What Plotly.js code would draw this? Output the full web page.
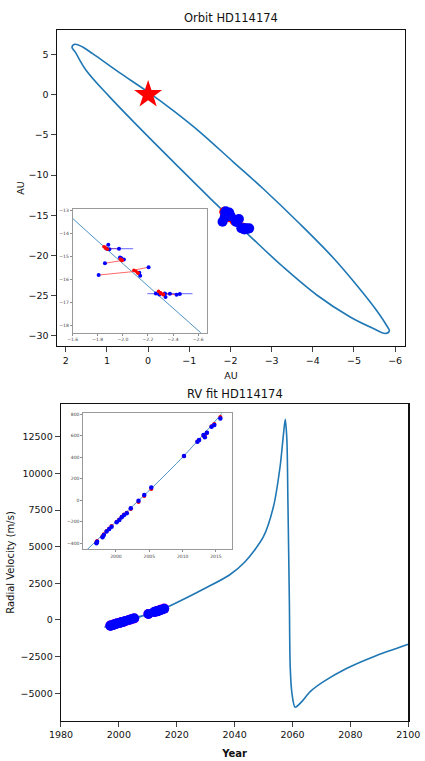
<!DOCTYPE html>
<html>
<head>
<meta charset="utf-8">
<script src="https://cdn.plot.ly/plotly-3.0.1.min.js"></script>
<style>html,body{margin:0;padding:0;background:#fff;}#chart{width:425px;height:761px;}</style>
</head>
<body>
<div id="chart"></div>
<script>
// ---- Orbit (projected ellipse) ----
const orbitX = [0.007, -0.643, -1.252, -2.064, -2.795, -3.689, -4.500, -5.102, -5.541, -5.785, -5.858, -5.761, -5.468, -4.907, -4.096, -3.282, -2.471, -1.538, -0.643, 0.251, 0.941, 1.508, 1.769, 1.849, 1.780, 1.600, 1.347, 0.697, 0.007];
const orbitY = [0.348, -2.112, -4.621, -8.348, -11.702, -16.087, -20.311, -23.913, -26.770, -28.634, -29.379, -29.689, -29.068, -27.640, -24.907, -21.429, -17.578, -13.043, -8.509, -3.913, -0.248, 3.043, 5.280, 5.900, 6.260, 5.950, 5.090, 2.733, 0.348];

// astrometry observations (blue) and model positions (red)
const astroObsX = [-1.884, -1.871, -1.892, -1.969, -1.977, -1.985, -2.008, -1.857, -2.205, -1.807, -2.131, -2.138, -2.263, -2.290, -2.335, -2.340, -2.428, -2.454, -2.375];
const astroObsY = [-14.49, -14.66, -14.68, -14.66, -15.04, -15.06, -15.13, -15.29, -15.46, -15.80, -15.70, -15.83, -16.60, -16.64, -16.60, -16.75, -16.66, -16.62, -16.61];
const astroErrX = [0.01, 0.01, 0.01, 0.113, 0.01, 0.01, 0.01, 0.01, 0.01, 0.01, 0.01, 0.01, 0.01, 0.01, 0.01, 0.01, 0.01, 0.01, 0.18];
const astroModX = [-1.849, -1.863, -1.876, -1.863, -1.979, -1.993, -1.993, -1.993, -2.088, -2.104, -2.120, -2.120, -2.284, -2.300, -2.321, -2.321, -2.300, -2.321, -2.300];
const astroModY = [-14.57, -14.63, -14.68, -14.64, -15.11, -15.17, -15.15, -15.17, -15.59, -15.64, -15.70, -15.72, -16.50, -16.57, -16.64, -16.66, -16.60, -16.62, -16.58];

// ---- RV model curve ----
const rvCurveYear = [1995.0, 2000.0, 2005.3, 2010.2, 2015.85, 2018.3, 2029.8, 2038.2, 2043.6, 2049.95, 2053.4, 2055.7, 2056.9, 2057.5, 2058.05, 2058.4, 2058.9, 2059.2, 2059.8, 2060.9, 2063.2, 2066.1, 2070.7, 2078.8, 2088.0, 2100.0];
const rvCurveVal  = [-500, -200, 110, 415, 809, 1023, 2161, 3068, 3975, 5680, 7725, 10452, 12730, 13684, 12272, 8182, 1364, -3184, -5000, -5950, -5570, -4888, -4207, -3293, -2502, -1657];

// RV observations (blue) and model values (red)
const rvObsYear = [1997.07, 1997.17, 1997.98, 1998.18, 1998.59, 1998.99, 1999.34, 2000.1, 2000.5, 2000.86, 2001.21, 2001.62, 2002.22, 2003.38, 2004.24, 2005.3, 2010.2, 2012.22, 2012.47, 2013.13, 2013.33, 2013.64, 2014.34, 2014.75, 2015.66];
const rvObsVal  = [-400, -385, -344, -322, -291, -266, -245, -204, -183, -158, -136, -121, -75, -3, 49, 120, 412, 545, 561, 607, 586, 629, 685, 700, 762];
const rvObsErr  = [15, 15, 15, 15, 15, 15, 15, 15, 15, 15, 15, 15, 15, 15, 15, 15, 15, 15, 15, 15, 15, 15, 15, 15, 15];
const rvModVal  = [-385, -378, -335, -315, -285, -262, -240, -200, -178, -152, -132, -115, -80, -15, 40, 105, 410, 548, 562, 600, 600, 628, 690, 710, 775];

// ---- labels ----
const topTitle = 'Orbit HD114174';
const bottomTitle = 'RV fit HD114174';
const auLabel = 'AU';
const yearLabel = 'Year';
const rvLabel = 'Radial Velocity (m/s)';

// build connecting segments obs -> model
function segs(ax, ay, bx, by) {
  const sx = [], sy = [];
  for (let i = 0; i < ax.length; i++) { sx.push(ax[i], bx[i], null); sy.push(ay[i], by[i], null); }
  return {sx, sy};
}
const aSeg = segs(astroObsX, astroObsY, astroModX, astroModY);

const LINE = '#1f77b4';
const traces = [
  // main orbit
  {x: orbitX, y: orbitY, xaxis: 'x', yaxis: 'y', mode: 'lines', line: {color: LINE, width: 1.6, shape: 'spline', smoothing: 1}, hoverinfo: 'skip'},
  {x: aSeg.sx, y: aSeg.sy, xaxis: 'x', yaxis: 'y', mode: 'lines', line: {color: '#ff0000', width: 2}, hoverinfo: 'skip'},
  {x: astroModX, y: astroModY, xaxis: 'x', yaxis: 'y', mode: 'markers', marker: {color: '#ff0000', size: 10}},
  {x: astroObsX, y: astroObsY, xaxis: 'x', yaxis: 'y', mode: 'markers', marker: {color: '#0000ff', size: 10}},
  {x: [0], y: [0], xaxis: 'x', yaxis: 'y', mode: 'markers', marker: {symbol: 'star', color: '#ff0000', size: 21}},
  // orbit inset
  {x: orbitX, y: orbitY, xaxis: 'x2', yaxis: 'y2', mode: 'lines', line: {color: LINE, width: 0.8, shape: 'spline', smoothing: 1}, hoverinfo: 'skip'},
  {x: aSeg.sx, y: aSeg.sy, xaxis: 'x2', yaxis: 'y2', mode: 'lines', line: {color: '#ff4040', width: 0.8}, hoverinfo: 'skip'},
  {x: astroObsX, y: astroObsY, xaxis: 'x2', yaxis: 'y2', mode: 'markers', marker: {color: '#0000ff', size: 4},
   error_x: {type: 'data', array: astroErrX, color: '#4040ff', thickness: 0.8, width: 0}},
  {x: astroModX, y: astroModY, xaxis: 'x2', yaxis: 'y2', mode: 'markers', marker: {color: '#ff0000', size: 3.5}},
  // RV main
  {x: rvCurveYear, y: rvCurveVal, xaxis: 'x3', yaxis: 'y3', mode: 'lines', line: {color: LINE, width: 1.6, shape: 'spline', smoothing: 0.8}, hoverinfo: 'skip'},
  {x: rvObsYear, y: rvModVal, xaxis: 'x3', yaxis: 'y3', mode: 'markers', marker: {color: '#ff00ff', size: 10}},
  {x: rvObsYear, y: rvObsVal, xaxis: 'x3', yaxis: 'y3', mode: 'markers', marker: {color: '#0000ff', size: 10}},
  // RV inset
  {x: rvCurveYear, y: rvCurveVal, xaxis: 'x4', yaxis: 'y4', mode: 'lines', line: {color: LINE, width: 0.8, shape: 'spline', smoothing: 0.8}, hoverinfo: 'skip'},
  {x: rvObsYear, y: rvModVal, xaxis: 'x4', yaxis: 'y4', mode: 'markers', marker: {color: '#ff0000', size: 4}},
  {x: rvObsYear, y: rvObsVal, xaxis: 'x4', yaxis: 'y4', mode: 'markers', marker: {color: '#0000ff', size: 4.5},
   error_y: {type: 'data', array: rvObsErr, color: '#0000ff', thickness: 1, width: 0}}
];

const F = 'DejaVu Sans, sans-serif';
const mainAx = {showgrid: false, zeroline: false, showline: true, mirror: true, linecolor: '#111', linewidth: 1.4,
  ticks: 'outside', ticklen: 5, tickwidth: 0.8, tickcolor: '#111', tickfont: {family: F, size: 9.5, color: '#111'}};
const insAx = {showgrid: false, zeroline: false, showline: true, mirror: true, linecolor: '#999', linewidth: 1,
  ticks: 'outside', ticklen: 2, tickwidth: 0.6, tickcolor: '#444', tickfont: {family: F, size: 4.5, color: '#444'}};

const layout = {
  width: 425, height: 761, margin: {l: 0, r: 0, t: 0, b: 0},
  paper_bgcolor: '#fff', plot_bgcolor: '#fff', showlegend: false,
  font: {family: F, size: 9.5, color: '#111'},
  xaxis: Object.assign({}, mainAx, {domain: [0.134, 0.953], anchor: 'y', range: [2.215, -6.24], tick0: 0, dtick: 1,
    title: {text: auLabel, font: {family: F, size: 9.5}, standoff: 7}}),
  yaxis: Object.assign({}, mainAx, {domain: [0.5453, 0.9606], anchor: 'x', range: [-31.25, 8.04], tick0: 0, dtick: 5,
    title: {text: auLabel, font: {family: F, size: 9.5}, standoff: 2}}),
  xaxis2: Object.assign({}, insAx, {domain: [0.171, 0.486], anchor: 'y2', range: [-1.6, -2.667], tick0: -1.6, dtick: 0.2, tickformat: '.1f'}),
  yaxis2: Object.assign({}, insAx, {domain: [0.5628, 0.725], anchor: 'x2', range: [-18.3, -12.95], tick0: 0, dtick: 1}),
  xaxis3: Object.assign({}, mainAx, {domain: [0.1435, 0.9607], anchor: 'y3', range: [1979.999, 2100.001], tick0: 1980, dtick: 20,
    title: {text: '<b>' + yearLabel + '</b>', font: {family: F, size: 10}, standoff: 10}}),
  yaxis3: Object.assign({}, mainAx, {domain: [0.053, 0.4687], anchor: 'x3', range: [-6870, 14710], tick0: 0, dtick: 2500, tickformat: 'd',
    title: {text: rvLabel, font: {family: F, size: 10}, standoff: 4}}),
  xaxis4: Object.assign({}, insAx, {domain: [0.196, 0.5466], anchor: 'y4', range: [1995.1, 2017.45], tick0: 2000, dtick: 5}),
  yaxis4: Object.assign({}, insAx, {domain: [0.2782, 0.4569], anchor: 'x4', range: [-456, 810], tick0: 0, dtick: 200, tickformat: 'd'}),
  annotations: [
    {text: topTitle, xref: 'paper', yref: 'paper', x: 0.5435, y: 1 - 18 / 761, xanchor: 'center', yanchor: 'middle', showarrow: false, font: {family: F, size: 11.5, color: '#111'}},
    {text: bottomTitle, xref: 'paper', yref: 'paper', x: 0.552, y: 1 - 394 / 761, xanchor: 'center', yanchor: 'middle', showarrow: false, font: {family: F, size: 11.5, color: '#111'}}
  ]
};

Plotly.newPlot('chart', traces, layout, {staticPlot: true, displayModeBar: false});
</script>
</body>
</html>
